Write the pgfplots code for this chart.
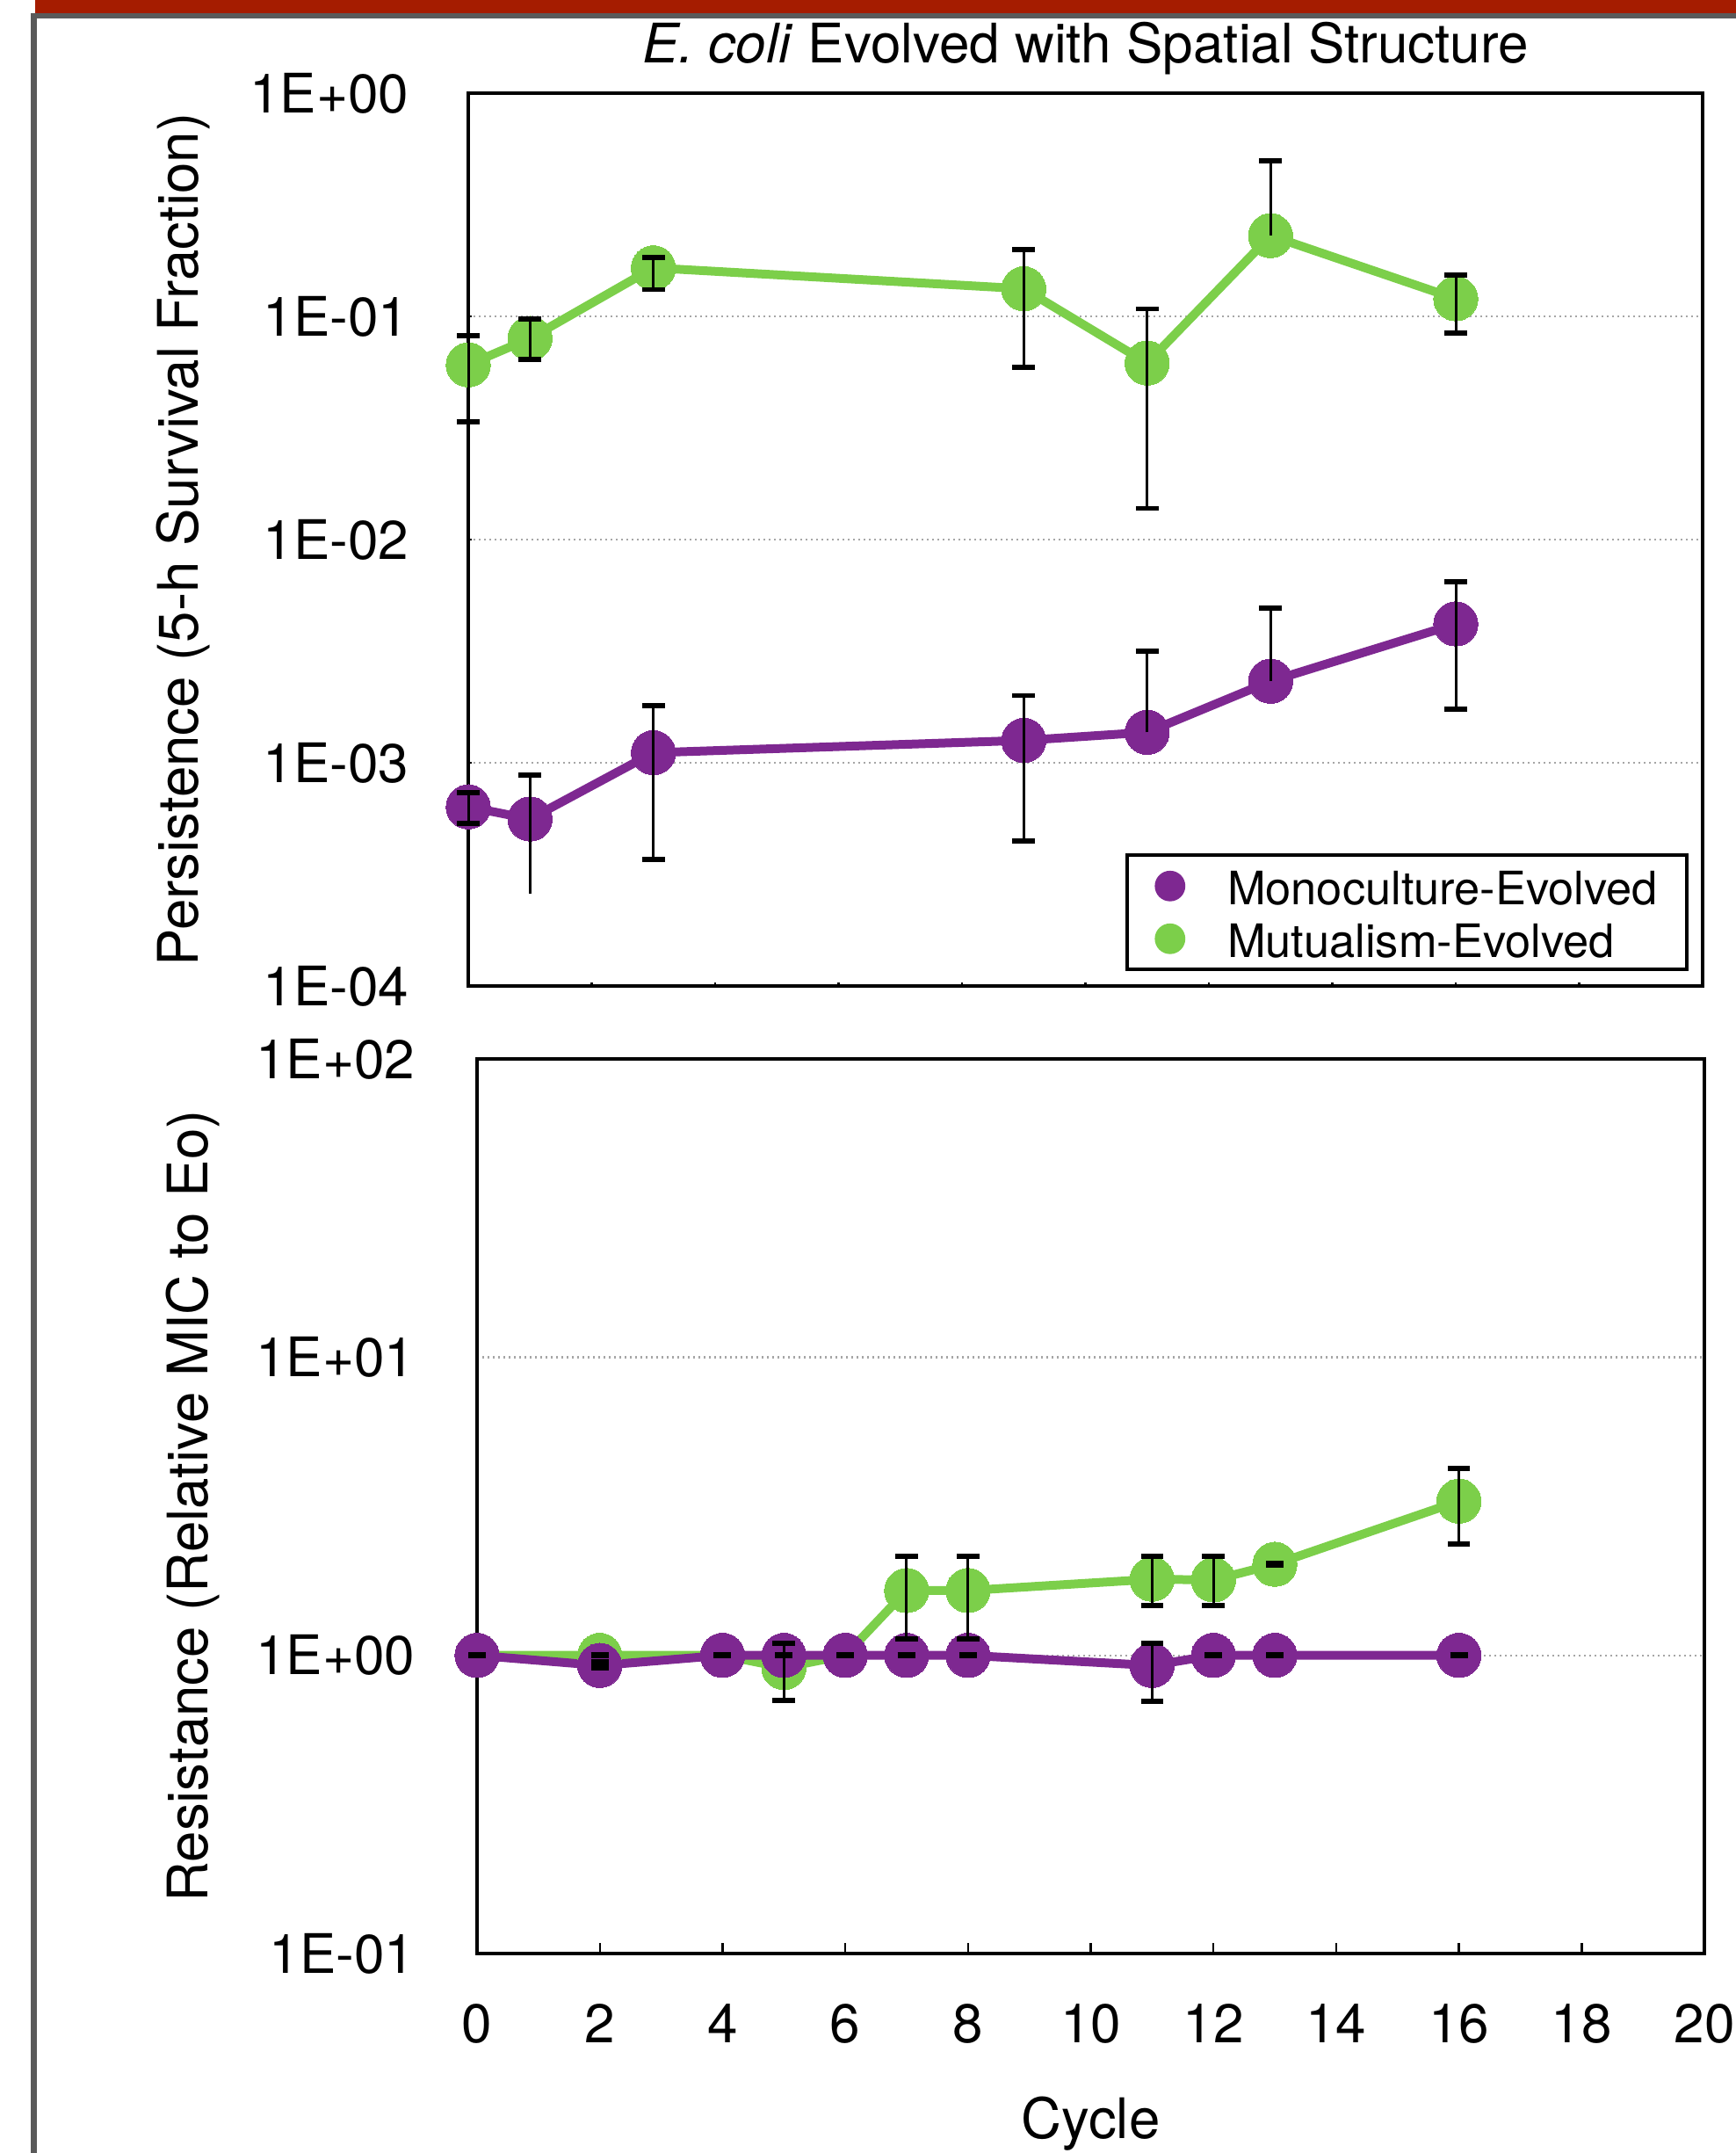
\documentclass[border=0pt]{standalone}
\usepackage{fontspec}
\setmainfont{TeX Gyre Heros}
\usepackage{pgfplots}
\pgfplotsset{compat=1.18}
\definecolor{mono}{HTML}{7E2891}
\definecolor{mutu}{HTML}{7CCF4A}
\definecolor{barred}{HTML}{A51C00}
\definecolor{framegray}{HTML}{5A5A5A}
\pgfplotsset{
  myax/.style={
    scale only axis, clip=false,
    xmin=0, xmax=20,
    xminorticks=false, yminorticks=false,
    axis line style={line width=0.9pt},
    tick align=inside,
    xtick pos=bottom, ytick pos=left,
    tick style={black, line width=0.6pt},
    ymajorgrids,
    major grid style={gray!70, line width=0.6pt, dash pattern=on 0.6pt off 0.9pt},
    tick label style={font=\fontsize{15.5}{18}\selectfont},
    label style={font=\fontsize{15.9}{19}\selectfont},
    yticklabel style={inner sep=0pt, anchor=east},
    every axis title shift=0pt,
  },
  topgeom/.style={at={(133.25pt,-280.5pt)}, anchor=south west,
    width=351.25pt, height=254pt, xmin=0, xmax=20, ymin=1e-4, ymax=1,
    scale only axis, clip=false},
  botgeom/.style={at={(135.75pt,-555.75pt)}, anchor=south west,
    width=349.25pt, height=254.5pt, xmin=0, xmax=20, ymin=0.1, ymax=100,
    scale only axis, clip=false},
  ebar/.style={draw=none, mark=none, forget plot,
    error bars/.cd, y dir=both, y explicit,
    error bar style={draw=black, solid, line width=0.75pt},
    error mark options={draw=black, solid, rotate=90, mark size=3.2pt, line width=1.4pt}},
  ebarplus/.style={draw=none, mark=none, forget plot,
    error bars/.cd, y dir=plus, y explicit,
    error bar style={draw=black, solid, line width=0.75pt},
    error mark options={draw=black, solid, rotate=90, mark size=3.2pt, line width=1.4pt}},
  ebarminusnc/.style={draw=none, mark=none, forget plot,
    error bars/.cd, y dir=minus, y explicit, error mark=none,
    error bar style={draw=black, solid, line width=0.75pt}},
  dashbar/.style={draw=none, mark=none, forget plot,
    error bars/.cd, y dir=both, y explicit,
    error bar style={draw=black, solid, line width=0.75pt},
    error mark options={draw=black, solid, rotate=90, mark size=2.5pt, line width=1.8pt}},
  serie/.style={color=#1, line width=2.5pt, mark=*, mark size=6.3pt,
    mark options={solid, draw=#1, fill=#1, line width=0pt}, forget plot},
}
\begin{document}
\begin{tikzpicture}[x=1pt,y=1pt]
\useasboundingbox (0,0) rectangle (494,-612.5);
\fill[barred] (10,0) rectangle (494,-3.75);
\fill[framegray] (10,-3.75) rectangle (494,-5.25);
\fill[framegray] (8.75,-3.75) rectangle (10.4,-612.5);

% ---------------- top panel ----------------
\begin{semilogyaxis}[myax, topgeom,
  major tick length=1pt,
  ytick={1e-4,1e-3,1e-2,1e-1,1},
  yticklabels={1E-04,1E-03,1E-02,1E-01,1E+00},
  yticklabel style={xshift=-16.75pt},
  xtick={0,2,...,20}, xticklabels={},
  ylabel={Persistence (5-h Survival Fraction)},
  ylabel style={at={(axis description cs:-0.2313,0.5)}, anchor=center},
  title={\textit{E. coli} Evolved with Spatial Structure},
  title style={at={(0.5,1)}, anchor=center, yshift=12.75pt, font=\fontsize{15.5}{18}\selectfont},
  legend style={at={(0.9886,0.0167)}, anchor=south east, draw=black, line width=0.9pt,
    font=\fontsize{13.1}{15}\selectfont, inner xsep=8.35pt, inner ysep=2.75pt,
    row sep=3pt, column sep=12.4pt,
    nodes={inner sep=0pt, text height=11.2pt, text depth=0.8pt}},
  legend cell align=left,
]
\addlegendimage{only marks, mark=*, mark size=3.9pt, mono}
\addlegendentry{Monoculture-Evolved}
\addlegendimage{only marks, mark=*, mark size=3.9pt, mutu}
\addlegendentry{Mutualism-Evolved}

\addplot[serie=mutu] table {
x y
0 0.0607
1 0.0797
3 0.165
9 0.133
11 0.0618
13 0.230
16 0.120
};
\addplot[serie=mono] table {
x y
0 6.35e-4
1 5.6e-4
3 1.11e-3
9 1.26e-3
11 1.37e-3
13 2.32e-3
16 4.19e-3
};
\end{semilogyaxis}

% error bars of the top panel, in an identical axis drawn over it
\begin{semilogyaxis}[topgeom, hide axis]
\addplot[ebar] table[x=x, y=y, y error plus=ep, y error minus=em] {
x y ep em
0 0.0607 0.0212 0.0270
1 0.0797 0.0176 0.0157
3 0.165 0.019 0.033
9 0.133 0.066 0.074
11 0.0618 0.0462 0.048
16 0.120 0.033 0.0359
};
\addplot[ebarplus] table[x=x, y=y, y error plus=ep] {
x y ep
13 0.230 0.267
};
\addplot[ebar] table[x=x, y=y, y error plus=ep, y error minus=em] {
x y ep em
0 6.35e-4 1.0e-4 1.0e-4
3 1.11e-3 6.9e-4 7.41e-4
9 1.26e-3 7.4e-4 8.13e-4
16 4.19e-3 2.27e-3 2.45e-3
};
\addplot[ebarplus] table[x=x, y=y, y error plus=ep] {
x y ep
1 5.6e-4 3.2e-4
11 1.37e-3 1.79e-3
13 2.32e-3 2.61e-3
};
\addplot[ebarminusnc] table[x=x, y=y, y error minus=em] {
x y em
1 5.6e-4 3.01e-4
};
\end{semilogyaxis}

% ---------------- bottom panel ----------------
\begin{semilogyaxis}[myax, botgeom,
  major tick length=3pt,
  ytick style={draw=none},
  ytick={0.1,1,10,100},
  yticklabels={1E-01,1E+00,1E+01,1E+02},
  yticklabel style={xshift=-17.5pt},
  xtick={0,2,...,20},
  xticklabels={0,2,4,6,8,10,12,14,16,18,20},
  xticklabel style={inner sep=0pt, anchor=north, yshift=-14.25pt},
  xlabel={Cycle},
  xlabel style={at={(axis description cs:0.5,-0.1906)}, anchor=center},
  ylabel={Resistance (Relative MIC to Eo)},
  ylabel style={at={(axis description cs:-0.2319,0.5)}, anchor=center},
]
\addplot[serie=mutu] table {
x y
0 1
2 1
4 1
5 0.91
6 1
7 1.65
8 1.65
11 1.80
12 1.79
13 2.02
16 3.29
};
\addplot[serie=mono] table {
x y
0 1
2 0.925
4 1
5 1
6 1
7 1
8 1
11 0.925
12 1
13 1
16 1
};
\end{semilogyaxis}

% error bars of the bottom panel, in an identical axis drawn over it
\begin{semilogyaxis}[botgeom, hide axis]
\addplot[ebar] table[x=x, y=y, y error plus=ep, y error minus=em] {
x y ep em
5 0.91 0.187 0.204
7 1.65 0.50 0.515
8 1.65 0.50 0.515
11 1.80 0.35 0.33
12 1.79 0.36 0.32
16 3.29 0.94 0.93
11 0.925 0.172 0.225
};
\addplot[dashbar] table[x=x, y=y, y error plus=ep, y error minus=em] {
x y ep em
2 1 0 0
13 2.02 0 0
0 1 0 0
2 0.925 0.02 0.015
4 1 0 0
5 1 0 0
6 1 0 0
7 1 0 0
8 1 0 0
12 1 0 0
13 1 0 0
16 1 0 0
};
\end{semilogyaxis}
\end{tikzpicture}
\end{document}
